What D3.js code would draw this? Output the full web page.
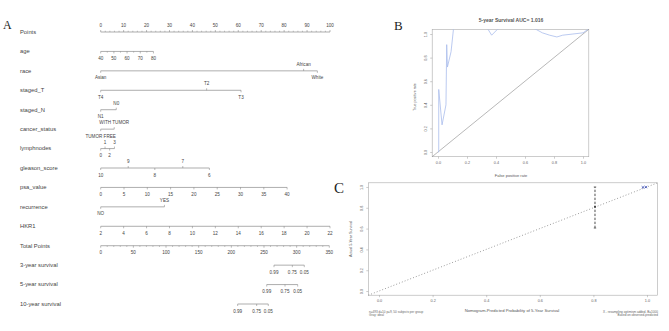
<!DOCTYPE html>
<html>
<head>
<meta charset="utf-8">
<script src="https://cdn.jsdelivr.net/npm/d3@7"></script>
<style>
  body { margin: 0; background: #fff; }
  svg { display: block; font-family: "Liberation Sans", Arial, sans-serif; }
</style>
</head>
<body>
<svg id="fig" width="669" height="331"></svg>
<script>
// ---- nomogram (panel A) data ----
var rowNames = ["Points", "age", "race", "staged_T", "staged_N", "cancer_status",
  "lymphnodes", "gleason_score", "psa_value", "recurrence", "HKR1",
  "Total Points", "3-year survival", "5-year survival", "10-year survival"];

var pointsVals = [0, 10, 20, 30, 40, 50, 60, 70, 80, 90, 100];
var ageVals = [40, 50, 60, 70, 80], ageMinor = [45, 55, 65, 75], agePts = [0, 23];
var psaVals = [0, 5, 10, 15, 20, 25, 30, 35, 40], psaPts = [0, 81.3];
var hkrVals = [2, 4, 6, 8, 10, 12, 14, 16, 18, 20, 22], hkrPts = [0, 100];
var totalVals = [0, 50, 100, 150, 200, 250, 300, 350];

var raceLevels = ["Asian", "African", "White"], racePts = [0, 88.5, 94.5];
var stageTLevels = ["T4", "T2", "T3"], stageTPts = [0, 46.2, 61.2];
var stageNLevels = ["N1", "N0"], stageNPts = [0, 6.8];
var cancerLevels = ["TUMOR FREE", "WITH TUMOR"], cancerPts = [0, 5.9];
var lymphLevels = ["0", "1", "2", "3"], lymphPts = [0, 1.9, 3.9, 6.0];
var gleasonLevels = ["10", "9", "8", "7", "6"], gleasonPts = [0, 12.0, 23.6, 35.8, 47.4];
var recurLevels = ["NO", "YES"], recurPts = [0, 27.8];

var survLabels = ["0.99", "0.75", "0.05"];
var surv3Total = [265.3, 293.4, 311.7];
var surv5Total = [254.2, 282.2, 301.6];
var surv10Total = [209.7, 238.8, 256.6];

// ---- ROC (panel B) data ----
var rocTitle = "5-year Survival AUC= 1.016";
var rocFpr = [0, 0.005, 0.005, 0.028, 0.055, 0.06, 0.065, 0.09, 0.11, 0.16, 0.25, 0.33,
  0.345, 0.37, 0.41, 0.43, 0.55, 0.675, 0.72, 0.77, 0.82, 0.86, 0.93, 1.0, 1.035];
var rocTpr = [0, 0, 0.53, 0.23, 0.40, 0.91, 0.72, 0.85, 1.08, 1.15, 1.12, 1.08,
  1.04, 0.99, 1.04, 1.05, 1.1, 1.04, 1.01, 0.99, 0.975, 0.99, 1.0, 1.01, 1.04];
var axisTicks = [0, 0.2, 0.4, 0.6, 0.8, 1.0];

// ---- calibration (panel C) data ----
var calPred = [0.806], calObs = [0.81], calLo = [0.605], calHi = [1.0];
var calXPred = [0.985, 0.996], calXObs = [0.997, 0.999];
var calNote1 = ["n=493 d=10 p=9, 50 subjects per group", "Gray: ideal"];
var calNote2 = ["X - resampling optimism added, B=1000", "Based on observed-predicted"];

var svg = d3.select("#fig");
var lineCol = "#777", textCol = "#444";

// panel letters
function panelLetter(t, x, y, size){
  svg.append("text").attr("x", x).attr("y", y).text(t)
    .style("font-family", "'Liberation Serif', 'DejaVu Serif', serif")
    .style("font-size", size + "px").style("fill", "#222");
}
panelLetter("A", 3, 29, 12);
panelLetter("B", 394, 30, 13);
panelLetter("C", 334, 193, 15);

// ================= nomogram =================
var ptsX = d3.scaleLinear().domain([0, 100]).range([100.7, 330]);
var totX = d3.scaleLinear().domain([0, 350]).range([100.7, 329.3]);
var rowY = d3.scalePoint().domain(rowNames).range([32, 304]);
var gA = svg.append("g");

gA.selectAll("text.rowlab").data(rowNames).join("text")
  .attr("class", "rowlab")
  .attr("x", 20).attr("y", d => rowY(d) + 1.9)
  .text(d => d)
  .style("font-size", "5.8px").style("fill", textCol);

// draws one nomogram scale: xs pixel positions, sides (+1 below / -1 above)
function drawScale(row, xs, labels, sides, minorXs){
  var y = rowY(row), g = gA.append("g");
  g.append("line").attr("x1", d3.min(xs)).attr("x2", d3.max(xs))
    .attr("y1", y).attr("y2", y)
    .style("stroke", lineCol).style("stroke-width", 0.6);
  g.selectAll("line.tk").data(xs).join("line").attr("class", "tk")
    .attr("x1", d => d).attr("x2", d => d)
    .attr("y1", y).attr("y2", (d, i) => y + 2 * sides[i])
    .style("stroke", lineCol).style("stroke-width", 0.5);
  if (minorXs){
    g.selectAll("line.mn").data(minorXs).join("line").attr("class", "mn")
      .attr("x1", d => d).attr("x2", d => d)
      .attr("y1", y).attr("y2", y + 1.3 * sides[0])
      .style("stroke", lineCol).style("stroke-width", 0.4);
  }
  g.selectAll("text").data(labels).join("text")
    .attr("x", (d, i) => xs[i])
    .attr("y", (d, i) => sides[i] > 0 ? y + 8.6 : y - 4.8)
    .attr("text-anchor", "middle")
    .text(d => d)
    .style("font-size", "4.6px").style("fill", textCol);
}
function fill(n, v){ return d3.range(n).map(() => v); }
function alt(n){ return d3.range(n).map(i => i % 2 ? -1 : 1); }

// Points
drawScale("Points", pointsVals.map(ptsX), pointsVals, fill(pointsVals.length, -1),
  d3.range(0, 101, 2).filter(v => v % 10).map(ptsX));

// continuous predictors
var ageToPts = d3.scaleLinear().domain([40, 80]).range(agePts);
drawScale("age", ageVals.map(v => ptsX(ageToPts(v))), ageVals, fill(ageVals.length, 1),
  ageMinor.map(v => ptsX(ageToPts(v))));

function cat(row, levels, pts){
  drawScale(row, pts.map(ptsX), levels, alt(levels.length));
}
cat("race", raceLevels, racePts);
cat("staged_T", stageTLevels, stageTPts);
cat("staged_N", stageNLevels, stageNPts);
cat("cancer_status", cancerLevels, cancerPts);
cat("lymphnodes", lymphLevels, lymphPts);
cat("gleason_score", gleasonLevels, gleasonPts);

var psaToPts = d3.scaleLinear().domain([0, 40]).range(psaPts);
drawScale("psa_value", psaVals.map(v => ptsX(psaToPts(v))), psaVals, fill(psaVals.length, 1));

cat("recurrence", recurLevels, recurPts);

var hkrToPts = d3.scaleLinear().domain([2, 22]).range(hkrPts);
drawScale("HKR1", hkrVals.map(v => ptsX(hkrToPts(v))), hkrVals, fill(hkrVals.length, 1));

drawScale("Total Points", totalVals.map(totX), totalVals, fill(totalVals.length, 1),
  d3.range(0, 351, 10).filter(v => v % 50).map(totX));

drawScale("3-year survival", surv3Total.map(totX), survLabels, [1, 1, 1]);
drawScale("5-year survival", surv5Total.map(totX), survLabels, [1, 1, 1]);
drawScale("10-year survival", surv10Total.map(totX), survLabels, [1, 1, 1]);

// ================= R-style framed plot helper =================
function framedPlot(id, x, y, fs, labOff){
  var g = svg.append("g");
  var x0 = x.range()[0], x1 = x.range()[1], y0 = y.range()[0], y1 = y.range()[1];
  svg.append("clipPath").attr("id", id).append("rect")
    .attr("x", x0).attr("y", y1).attr("width", x1 - x0).attr("height", y0 - y1);
  g.append("rect").attr("x", x0).attr("y", y1).attr("width", x1 - x0).attr("height", y0 - y1)
    .style("fill", "none").style("stroke", "#aaa").style("stroke-width", 0.6);
  var ax = g.append("g").attr("transform", "translate(0," + y0 + ")")
    .call(d3.axisBottom(x).tickValues(axisTicks).tickFormat(d3.format(".1f")).tickSize(2).tickPadding(2.5));
  var ay = g.append("g").attr("transform", "translate(" + x0 + ",0)")
    .call(d3.axisLeft(y).tickValues(axisTicks).tickFormat(d3.format(".1f")).tickSize(2));
  [ax, ay].forEach(a => {
    a.select(".domain").remove();
    a.selectAll("line").style("stroke", "#999").style("stroke-width", 0.5);
    a.selectAll("text").style("font-size", fs + "px").style("fill", "#666")
      .style("font-family", "'Liberation Sans', Arial, sans-serif");
  });
  ay.selectAll("text").attr("x", 0).attr("dy", 0).attr("y", -labOff)
    .attr("text-anchor", "middle").attr("transform", "rotate(-90)");
  return g;
}

// ================= ROC (panel B) =================
var rx = d3.scaleLinear().domain([-0.04, 1.04]).range([432.2, 588.8]);
var ry = d3.scaleLinear().domain([-0.04, 1.04]).range([156.7, 29.3]);
var gB = framedPlot("clipB", rx, ry, 3.8, 4.8);

gB.append("line").attr("x1", rx(-0.04)).attr("y1", ry(-0.04))
  .attr("x2", rx(1.04)).attr("y2", ry(1.04))
  .style("stroke", "#888").style("stroke-width", 0.6);

gB.append("path")
  .datum(d3.zip(rocFpr, rocTpr))
  .attr("clip-path", "url(#clipB)")
  .attr("d", d3.line().x(d => rx(d[0])).y(d => ry(d[1])))
  .style("fill", "none").style("stroke", "#aabcec").style("stroke-width", 0.8);

gB.append("text").attr("x", 511).attr("y", 21.5).attr("text-anchor", "middle")
  .text(rocTitle).style("font-size", "5px").style("font-weight", "bold").style("fill", "#555");
gB.append("text").attr("x", 511).attr("y", 176.5).attr("text-anchor", "middle")
  .text("False positive rate").style("font-size", "4px").style("fill", "#555");
gB.append("text").attr("transform", "translate(416,97) rotate(-90)").attr("text-anchor", "middle")
  .text("True positive rate").style("font-size", "3.6px").style("fill", "#555");

// ================= calibration (panel C) =================
var cx = d3.scaleLinear().domain([-0.04, 1.04]).range([368.3, 657.7]);
var cy = d3.scaleLinear().domain([-0.04, 1.04]).range([295.2, 182.8]);
var gC = framedPlot("clipC", cx, cy, 3.8, 5.5);

gC.append("line").attr("x1", cx(-0.04)).attr("y1", cy(-0.04))
  .attr("x2", cx(1.04)).attr("y2", cy(1.04))
  .style("stroke", "#777").style("stroke-width", 0.8).style("stroke-dasharray", "0.9,2.1");

calPred.forEach(function(p, i){
  gC.append("line").attr("x1", cx(p)).attr("x2", cx(p))
    .attr("y1", cy(calLo[i])).attr("y2", cy(calHi[i]))
    .style("stroke", "#222").style("stroke-width", 0.8).style("stroke-dasharray", "2.4,1.6");
  [calLo[i], calHi[i]].forEach(function(v){
    gC.append("line").attr("x1", cx(p) - 1.2).attr("x2", cx(p) + 1.2)
      .attr("y1", cy(v)).attr("y2", cy(v)).style("stroke", "#222").style("stroke-width", 0.6);
  });
  gC.append("circle").attr("cx", cx(p)).attr("cy", cy(calObs[i])).attr("r", 0.9)
    .style("fill", "#333");
});

gC.selectAll("path.xm").data(d3.zip(calXPred, calXObs)).join("path").attr("class", "xm")
  .attr("d", d => {
    var px = cx(d[0]), py = cy(d[1]);
    return "M" + (px - 1.3) + "," + (py - 1.1) + "L" + (px + 1.3) + "," + (py + 1.1) +
      "M" + (px - 1.3) + "," + (py + 1.1) + "L" + (px + 1.3) + "," + (py - 1.1);
  })
  .style("stroke", "#2b3fb0").style("stroke-width", 0.7);

gC.append("text").attr("x", 512).attr("y", 312).attr("text-anchor", "middle")
  .text("Nomogram-Predicted Probability of 5-Year Survival").style("font-size", "4.2px").style("fill", "#555");
gC.append("text").attr("transform", "translate(352,239) rotate(-90)").attr("text-anchor", "middle")
  .text("Actual 5-Year Survival").style("font-size", "3.7px").style("fill", "#555");

gC.selectAll("text.n1").data(calNote1).join("text").attr("class", "n1")
  .attr("x", 369).attr("y", (d, i) => 312.5 + i * 3.6)
  .text(d => d).style("font-size", "3.1px").style("fill", "#666");
gC.selectAll("text.n2").data(calNote2).join("text").attr("class", "n2")
  .attr("x", 658).attr("y", (d, i) => 312.5 + i * 3.6).attr("text-anchor", "end")
  .text(d => d).style("font-size", "3.1px").style("fill", "#666");
</script>
</body>
</html>
